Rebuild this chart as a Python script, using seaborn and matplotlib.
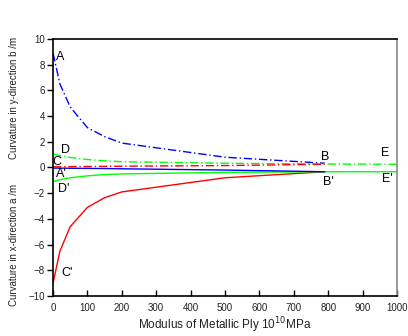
import matplotlib
matplotlib.use("Agg")
import matplotlib.pyplot as plt
import seaborn as sns
import pandas as pd

sns.set_theme(style="white")
plt.rcParams['font.family'] = ['Liberation Sans', 'DejaVu Sans']

# Data
x_short = [0, 20, 50, 100, 150, 200, 500, 790]
x_long = [0, 20, 50, 100, 150, 200, 500, 800, 1000]

b_AB = [8.9, 6.5, 4.7, 3.1, 2.4, 1.9, 0.8, 0.33]        # blue dash-dot
a_CB = [-9.0, -6.5, -4.6, -3.1, -2.35, -1.9, -0.8, -0.33]  # red solid
c_C = [0.05, 0.06, 0.07, 0.08, 0.09, 0.1, 0.15, 0.25]   # red dash-dot
a_A = [-0.05, -0.05, -0.06, -0.07, -0.08, -0.1, -0.2, -0.33]  # blue solid
d_DE = [1.05, 0.92, 0.78, 0.62, 0.52, 0.45, 0.33, 0.27, 0.25]   # green dash-dot
d_DpEp = [-1.1, -0.95, -0.8, -0.65, -0.55, -0.5, -0.38, -0.33, -0.33]  # green solid

point_labels = ['A', 'C', 'D', "A'", "D'", "C'", 'B', "B'", 'E', "E'"]
label_x = [20, 12, 35, 23, 30, 40, 790, 802, 966, 973]
label_y = [8.6, 0.45, 1.35, -0.5, -1.7, -8.2, 0.8, -1.1, 1.1, -0.9]

fig = plt.figure(figsize=(4.08, 3.36), dpi=100)
ax = fig.add_axes([0.130, 0.119, 0.843, 0.765])

dashdot = (0, (6, 2, 1, 2))
series = [
    (x_short, b_AB, '#0000FF', dashdot),
    (x_short, a_CB, '#FF0000', '-'),
    (x_long, d_DE, '#00FF00', dashdot),
    (x_long, d_DpEp, '#00FF00', '-'),
    (x_short, c_C, '#FF0000', dashdot),
    (x_short, a_A, '#0000FF', '-'),
]
for xs, ys, col, ls in series:
    df = pd.DataFrame({'x': xs, 'y': ys})
    sns.lineplot(data=df, x='x', y='y', ax=ax, color=col, linestyle=ls,
                 linewidth=1.0, estimator=None, sort=False)

ax.set_xlim(0, 1000)
ax.set_ylim(-10, 10)
ax.set_xticks(range(0, 1001, 100))
ax.set_yticks(range(-10, 11, 2))
ax.tick_params(axis='x', bottom=True, direction='in', length=4, width=1,
               labelsize=7, pad=5, colors='black', labelcolor='#222222')
ax.tick_params(axis='y', left=True, direction='out', length=4, width=1,
               labelsize=7, pad=2, colors='black', labelcolor='#222222')
for s in ['left', 'bottom', 'top']:
    ax.spines[s].set_color('black')
    ax.spines[s].set_linewidth(1.2)
ax.spines['right'].set_color('#888888')
ax.spines['right'].set_linewidth(1.2)
ax.set_xlabel('Modulus of Metallic Ply 10$^{10}$MPa', fontsize=8.5, labelpad=2, color='#222222')
ax.set_ylabel('')

for t, xv, yv in zip(point_labels, label_x, label_y):
    ax.text(xv, yv, t, fontsize=9, color='black', ha='center', va='center')

fig.text(0.035, 0.71, 'Curvature in y-direction b /m', rotation=90, fontsize=7,
         ha='center', va='center', color='#222222')
fig.text(0.035, 0.27, 'Curvature in x-direction a /m', rotation=90, fontsize=7,
         ha='center', va='center', color='#222222')

fig.savefig('out.png', dpi=100)
